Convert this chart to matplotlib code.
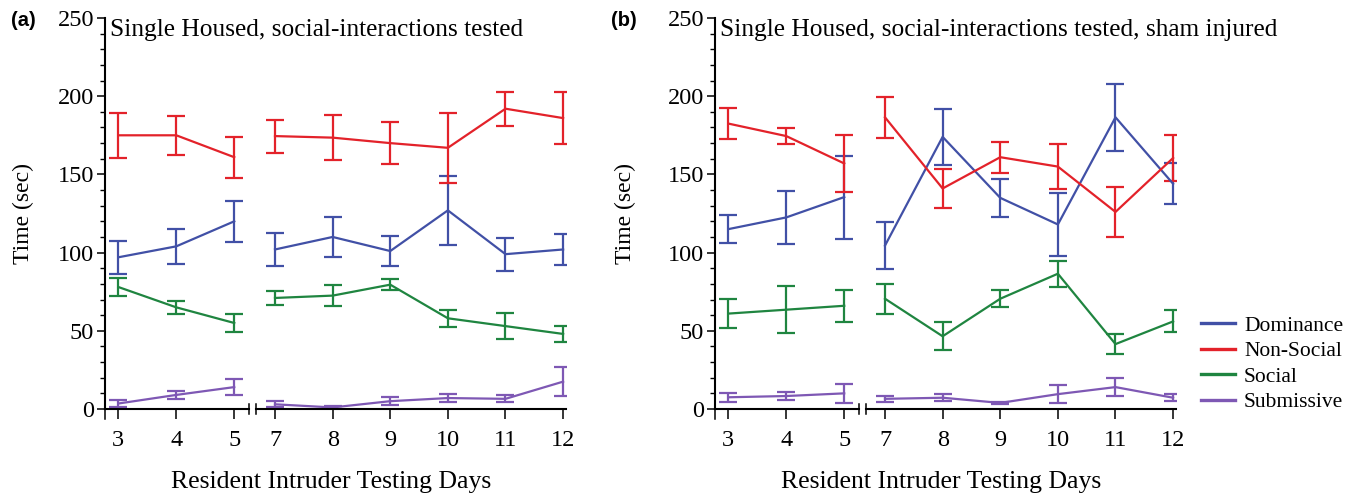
import numpy as np
import matplotlib.pyplot as plt

# 数据：天数与各行为时间 (sec)，均值 ± 误差
days = [3, 4, 5, 7, 8, 9, 10, 11, 12]

dom_a = [97, 104, 120, 102, 110, 101, 127, 99, 102]
dom_a_err = [10.5, 11, 13, 10.5, 12.5, 9.5, 22, 10.5, 10]
non_a = [175, 175, 161, 174.5, 173.5, 170, 167, 192, 186]
non_a_err = [14.5, 12.5, 13, 10.5, 14.5, 13.5, 22.5, 11, 16.5]
soc_a = [78, 65, 55, 71, 72.5, 79.5, 58, 53, 48]
soc_a_err = [5.5, 4, 5.5, 4.3, 6.5, 3.7, 5.3, 8.2, 5.2]
sub_a = [3.5, 9, 14, 3, 1, 5, 7, 6.5, 17.5]
sub_a_err = [2.2, 2.5, 5.3, 1.8, 0.8, 2.5, 2.7, 2.3, 9.4]

dom_b = [115, 122.5, 135.5, 104.5, 174, 135, 118, 186.5, 144]
dom_b_err = [9, 17, 26.5, 15, 18, 12, 20, 21.5, 13]
non_b = [182.5, 174.5, 157, 186.5, 141, 161, 155, 126, 160.5]
non_b_err = [9.7, 5, 18, 13, 12.6, 10, 14.5, 16, 15]
soc_b = [61, 63.5, 66, 70.5, 46.5, 70.5, 86.5, 41.5, 56]
soc_b_err = [9.2, 15, 10.2, 9.6, 9, 5.5, 8.3, 6.2, 7]
sub_b = [7.5, 8.3, 10, 6.5, 7.2, 3.9, 9.5, 14, 7.2]
sub_b_err = [2.8, 2.4, 6.3, 2, 2.3, 0.5, 5.8, 5.6, 2.3]

labels = ['Dominance', 'Non-Social', 'Social', 'Submissive']
colors = ['#4150a6', '#e3222a', '#1f8540', '#7e58b4']

titles = ['Single Housed, social-interactions tested',
          'Single Housed, social-interactions tested, sham injured']
xlabel = 'Resident Intruder Testing Days'
ylabel = 'Time (sec)'

plt.rcParams['font.family'] = ['Liberation Serif', 'DejaVu Serif']

W, H = 1357, 498
fig = plt.figure(figsize=(W / 100, H / 100), dpi=100)

lw = 1.6
spine_w = 1.5


def px_rect(x0, x1, y_top, y_bot):
    return [x0 / W, 1 - y_bot / H, (x1 - x0) / W, (y_bot - y_top) / H]


def draw_panel(xl, series, title, tag, ylab_x, tag_x):
    # 左段 (3-5) 与右段 (7-12)，中间断轴
    ax1 = fig.add_axes(px_rect(xl, xl + 144.3, 18, 409))
    ax2 = fig.add_axes(px_rect(xl + 150.7, xl + 461, 18, 409))
    d = np.array(days)
    m1 = d <= 5
    m2 = d >= 7
    for (vals, errs), c, lab in zip(series, colors, labels):
        vals = np.array(vals)
        errs = np.array(errs)
        for ax, m in ((ax1, m1), (ax2, m2)):
            ax.errorbar(d[m], vals[m], yerr=errs[m], color=c, lw=lw,
                        elinewidth=lw, capsize=6.5, capthick=lw, label=lab)
    ax1.set_xlim(2.77, 5.26)
    ax2.set_xlim(6.665, 12.05)
    for ax in (ax1, ax2):
        ax.set_ylim(0, 250)
        ax.patch.set_alpha(0)
        ax.spines['top'].set_visible(False)
        ax.spines['right'].set_visible(False)
        ax.spines['bottom'].set_linewidth(spine_w)
        ax.set_xticks([x for x in days if ax.get_xlim()[0] < x < ax.get_xlim()[1]])
        ax.tick_params(axis='x', direction='out', length=7, width=1.1,
                       labelsize=17.5, pad=8)
    ax1.spines['left'].set_linewidth(spine_w)
    ax1.set_yticks(np.arange(0, 251, 50))
    ax1.set_yticks(np.arange(0, 251, 10), minor=True)
    ax1.tick_params(axis='y', which='major', direction='out', length=6,
                    width=1.1, labelsize=17.5, pad=2)
    ax1.tick_params(axis='y', which='minor', direction='out', length=3.5,
                    width=1.0)
    ax2.spines['left'].set_visible(False)
    ax2.set_yticks([])
    # 断轴标记
    kw = dict(color='black', lw=1.1, clip_on=False)
    ax1.plot([1, 1], [-0.014, 0.014], transform=ax1.transAxes, **kw)
    ax2.plot([0, 0], [-0.014, 0.014], transform=ax2.transAxes, **kw)
    ax1.plot([0, 0], [0, -0.025], transform=ax1.transAxes, **kw)

    ax1.set_ylabel(ylabel, fontsize=17)
    ax1.yaxis.set_label_coords(ylab_x, 0.5)
    fig.text((xl + 5) / W, 1 - 30 / H, title, fontsize=18.3, va='center', ha='left')
    fig.text(tag_x / W, 1 - 20 / H, tag, fontsize=14.5, fontweight='bold',
             family='Liberation Sans', va='center', ha='left')
    fig.text((xl + 226) / W, 1 - 482 / H, xlabel, fontsize=18.5,
             va='center', ha='center')
    return ax1, ax2


series_a = [(dom_a, dom_a_err), (non_a, non_a_err), (soc_a, soc_a_err), (sub_a, sub_a_err)]
series_b = [(dom_b, dom_b_err), (non_b, non_b_err), (soc_b, soc_b_err), (sub_b, sub_b_err)]

draw_panel(105, series_a, titles[0], '(a)', -0.49, 11)
draw_panel(715, series_b, titles[1], '(b)', -0.547, 611)

# 图例
handles = [plt.Line2D([], [], color=c, lw=2.4) for c in colors]
fig.legend(handles, labels, loc='center left', bbox_to_anchor=(1201 / W, 1 - 364 / H),
           frameon=False, fontsize=15.5, handlelength=1.6, handletextpad=0.4,
           labelspacing=0.25, borderpad=0, borderaxespad=0)

fig.savefig('out.png', dpi=100)
